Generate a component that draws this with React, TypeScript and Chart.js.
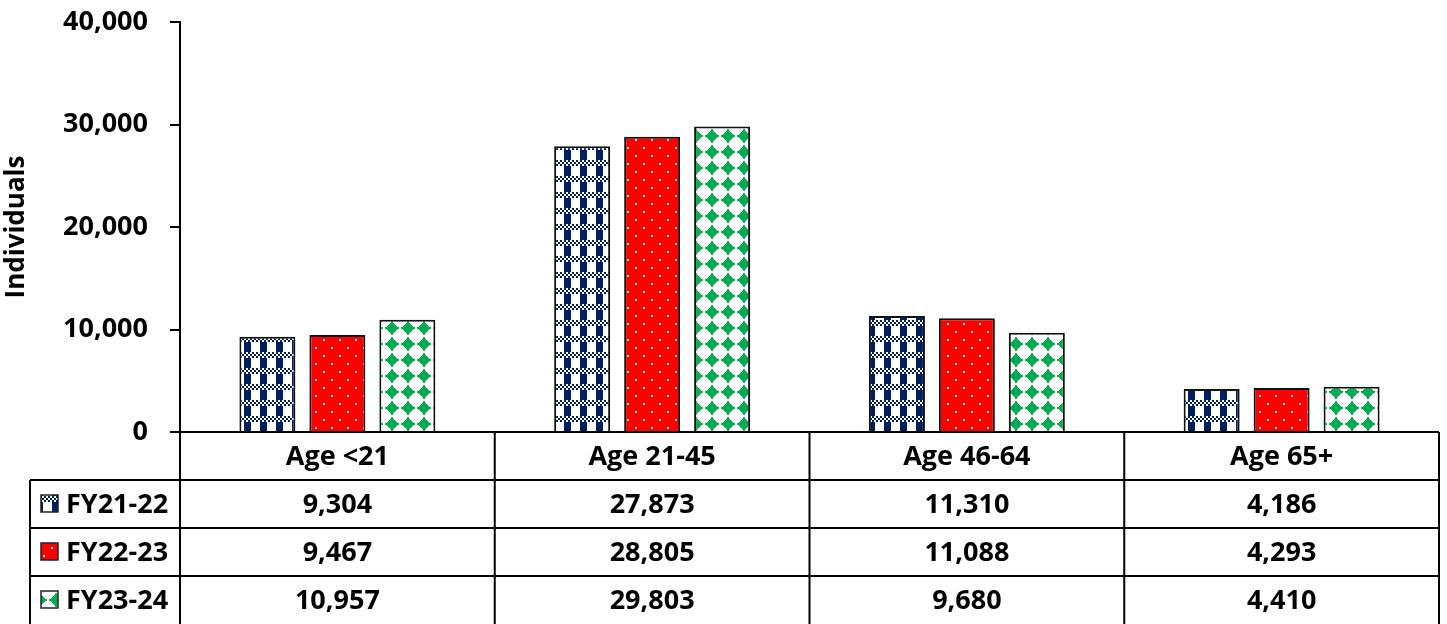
import React, { useEffect, useRef } from "react";
import { Chart, registerables } from "chart.js";

Chart.register(...registerables);

const categories = ["Age <21", "Age 21-45", "Age 46-64", "Age 65+"];
const seriesNames = ["FY21-22", "FY22-23", "FY23-24"];
const fy2122 = [9304, 27873, 11310, 4186];
const fy2223 = [9467, 28805, 11088, 4293];
const fy2324 = [10957, 29803, 9680, 4410];
const yTicks = [0, 10000, 20000, 30000, 40000];

const FONT = "'Open Sans', Lato, sans-serif";
const FSIZE = 27;

function tile(w: number, h: number, draw: (g: CanvasRenderingContext2D) => void) {
  const c = document.createElement("canvas");
  c.width = w;
  c.height = h;
  const g = c.getContext("2d")!;
  draw(g);
  return c;
}

function makePatterns(ctx: CanvasRenderingContext2D) {
  const navy = "#002060";
  const t1 = tile(16, 16, (g) => {
    g.fillStyle = "#fff";
    g.fillRect(0, 0, 16, 16);
    g.fillStyle = navy;
    for (let y = 0; y < 6; y += 2)
      for (let x = 0; x < 16; x += 2)
        if (((x + y) / 2) % 2 === 0) g.fillRect(x, y, 2, 2);
    g.fillRect(4, 6, 7, 10);
  });
  const t2 = tile(16, 16, (g) => {
    g.fillStyle = "#ff0000";
    g.fillRect(0, 0, 16, 16);
    g.fillStyle = "#fff";
    g.fillRect(3, 3, 2, 2);
    g.fillRect(11, 11, 2, 2);
  });
  const t3 = tile(16, 16, (g) => {
    g.fillStyle = "#fff";
    g.fillRect(0, 0, 16, 16);
    g.fillStyle = "#00b050";
    for (let y = 0; y < 16; y++)
      for (let x = 0; x < 16; x++) {
        const dx = Math.abs(x - 7.5);
        const dy = Math.abs(y - 7.5);
        if (dx + dy <= 6.5 || (dx < 1 && dy <= 7) || (dy < 1 && dx <= 7)) g.fillRect(x, y, 1, 1);
      }
  });
  return [
    ctx.createPattern(t1, "repeat")!,
    ctx.createPattern(t2, "repeat")!,
    ctx.createPattern(t3, "repeat")!,
  ];
}

export default function App() {
  const ref = useRef<HTMLCanvasElement>(null);

  useEffect(() => {
    const canvas = ref.current!;
    const ctx = canvas.getContext("2d")!;
    const patterns = makePatterns(ctx);
    const seriesData = [fy2122, fy2223, fy2324];

    const tablePlugin = {
      id: "dataTable",
      afterDraw(chart: any) {
        const c: CanvasRenderingContext2D = chart.ctx;
        const area = chart.chartArea;
        const left = area.left;
        const right = area.right;
        const top = area.bottom;
        const rowH = 48;
        const legendLeft = 30;
        const n = categories.length;
        const colW = (right - left) / n;
        c.save();
        c.strokeStyle = "#000";
        c.lineWidth = 2;
        c.beginPath();
        c.moveTo(left - 10, top);
        c.lineTo(right, top);
        for (let r = 1; r <= 3; r++) {
          c.moveTo(legendLeft, top + r * rowH);
          c.lineTo(right, top + r * rowH);
        }
        const bottom = top + 4 * rowH;
        for (let i = 0; i <= n; i++) {
          const x = left + i * colW;
          c.moveTo(x, top);
          c.lineTo(x, bottom);
        }
        c.moveTo(legendLeft, top + rowH);
        c.lineTo(legendLeft, bottom);
        c.stroke();

        c.fillStyle = "#000";
        c.font = `bold ${FSIZE}px ${FONT}`;
        c.textAlign = "center";
        c.textBaseline = "middle";
        for (let i = 0; i < n; i++) {
          const cx = left + (i + 0.5) * colW;
          c.fillText(categories[i], cx, top + rowH / 2 + 1);
          for (let s = 0; s < 3; s++) {
            c.fillText(seriesData[s][i].toLocaleString("en-US"), cx, top + (s + 1.5) * rowH + 1);
          }
        }
        c.textAlign = "left";
        for (let s = 0; s < 3; s++) {
          const cy = top + (s + 1.5) * rowH;
          c.fillStyle = patterns[s];
          c.fillRect(41, cy - 9, 17, 17);
          c.lineWidth = 1.5;
          c.strokeStyle = "#222";
          c.strokeRect(41, cy - 9, 17, 17);
          c.fillStyle = "#000";
          c.fillText(seriesNames[s], 66, cy + 1);
        }
        c.restore();
      },
    };

    const chart = new Chart(canvas, {
      type: "bar",
      data: {
        labels: categories,
        datasets: seriesNames.map((name, i) => ({
          label: name,
          data: seriesData[i],
          backgroundColor: patterns[i],
          borderColor: "#111",
          borderWidth: 2,
          categoryPercentage: 0.667,
          barPercentage: 0.8,
        })),
      },
      options: {
        animation: false,
        responsive: true,
        maintainAspectRatio: false,
        layout: { padding: { top: 22, right: 8, bottom: 192, left: 0 } },
        plugins: {
          legend: { display: false },
          tooltip: { enabled: false },
        },
        scales: {
          x: {
            type: "category",
            display: false,
          },
          y: {
            min: 0,
            max: 40000,
            afterBuildTicks: (scale: any) => {
              scale.ticks = yTicks.map((v) => ({ value: v }));
            },
            afterFit: (scale: any) => {
              scale.width = 180;
              scale.paddingTop = 0;
              scale.paddingBottom = 0;
            },
            ticks: {
              color: "#000",
              padding: 22,
              font: { family: FONT, size: FSIZE, weight: "bold" },
              callback: (v: any) => Number(v).toLocaleString("en-US"),
            },
            grid: {
              drawOnChartArea: false,
              drawTicks: true,
              tickLength: 10,
              color: "#000",
              lineWidth: 2,
            },
            border: { display: true, color: "#000", width: 2 },
            title: {
              display: true,
              text: "Individuals",
              color: "#000",
              font: { family: FONT, size: 26, weight: "bold" },
              padding: { top: 1, bottom: 4 },
            },
          },
        },
      },
      plugins: [tablePlugin],
    });
    return () => chart.destroy();
  }, []);

  return (
    <div style={{ position: "absolute", left: 0, top: 0, width: 1447, height: 624 }}>
      <canvas ref={ref} />
    </div>
  );
}
